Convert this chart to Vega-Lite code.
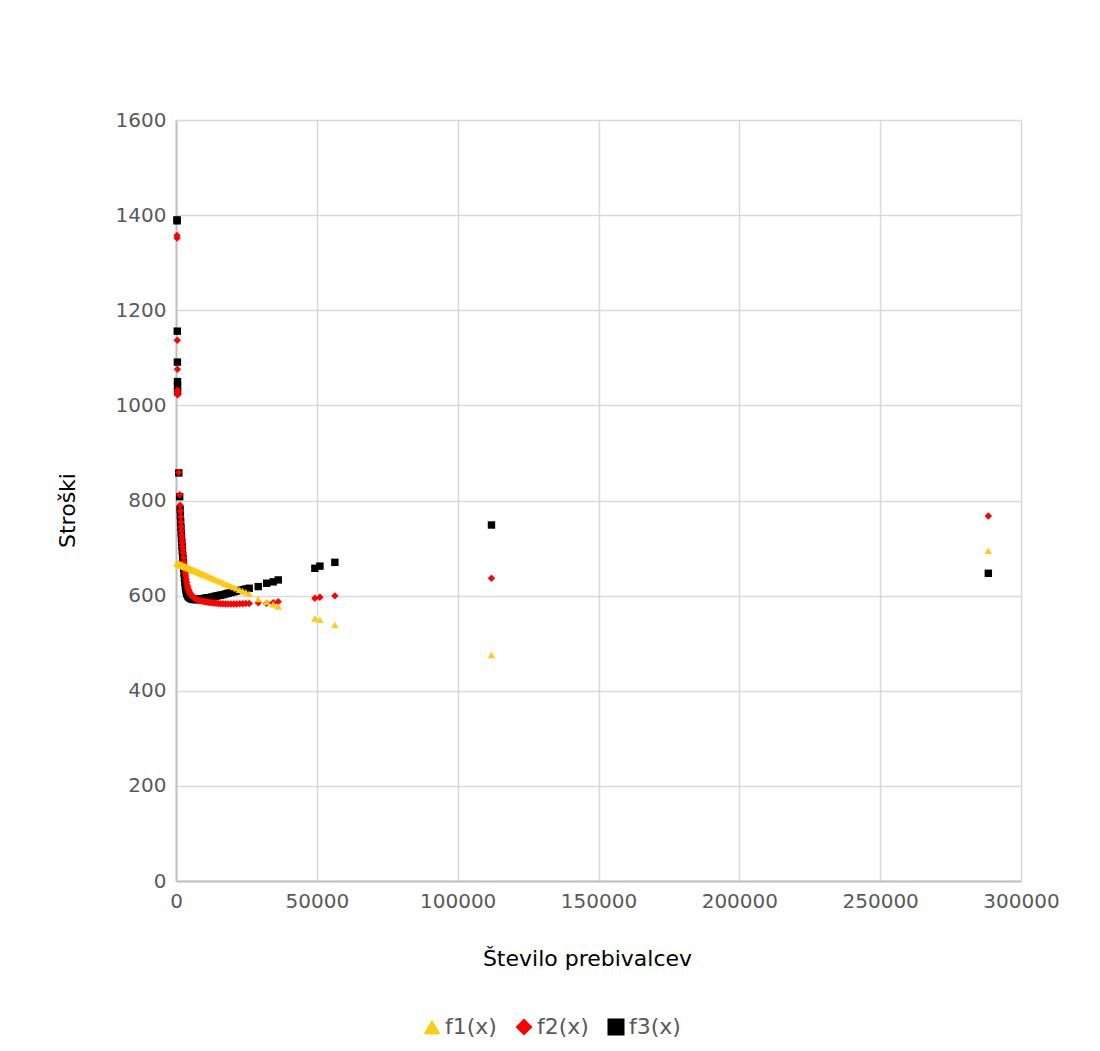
{
 "$schema": "https://vega.github.io/schema/vega-lite/v6.json",
 "width": 845, "height": 761,
 "autosize": {"type": "none"},
 "padding": {"left": 176, "top": 120, "right": 79, "bottom": 170},
 "background": "white",
 "config": {
  "view": {"stroke": null},
  "font": "DejaVu Sans",
  "axis": {"grid": true, "gridColor": "#d9d9d9", "gridWidth": 1.5, "domainColor": "#bfbfbf", "domainWidth": 2, "ticks": false,
   "labelFont": "DejaVu Sans", "labelFontSize": 20, "labelColor": "#595959", "labelPadding": 10,
   "titleFont": "DejaVu Sans", "titleFontSize": 22, "titleFontWeight": "normal", "titleColor": "#000000"}
 },
 "data": {"values": [
  {"x": 360, "f1": 668, "f2": 1357, "f3": 1390},
  {"x": 375, "f1": 668, "f2": 1352, "f3": 1388},
  {"x": 450, "f1": 668, "f2": 1137, "f3": 1156},
  {"x": 500, "f1": 668, "f2": 1076, "f3": 1091},
  {"x": 530, "f1": 668, "f2": 1032, "f3": 1050},
  {"x": 545, "f1": 668, "f2": 1027, "f3": 1040},
  {"x": 560, "f1": 668, "f2": 1022, "f3": 1029},
  {"x": 1000, "f1": 666.5, "f2": 859, "f3": 858},
  {"x": 1300, "f1": 665.8, "f2": 812, "f3": 808},
  {"x": 1450, "f1": 665.4, "f2": 790, "f3": 782},
  {"x": 1550, "f1": 665.1, "f2": 778, "f3": 768},
  {"x": 1650, "f1": 664.9, "f2": 766, "f3": 755},
  {"x": 1750, "f1": 664.6, "f2": 755, "f3": 743},
  {"x": 1850, "f1": 664.4, "f2": 745, "f3": 732},
  {"x": 1950, "f1": 664.1, "f2": 736, "f3": 722},
  {"x": 2050, "f1": 663.9, "f2": 727, "f3": 712},
  {"x": 2150, "f1": 663.6, "f2": 719, "f3": 703},
  {"x": 2250, "f1": 663.4, "f2": 711, "f3": 694},
  {"x": 2350, "f1": 663.1, "f2": 704, "f3": 686},
  {"x": 2450, "f1": 662.9, "f2": 697, "f3": 678},
  {"x": 2550, "f1": 662.6, "f2": 690, "f3": 670},
  {"x": 2700, "f1": 662.3, "f2": 680, "f3": 658},
  {"x": 2850, "f1": 661.9, "f2": 671, "f3": 647},
  {"x": 3000, "f1": 661.5, "f2": 662, "f3": 637},
  {"x": 3150, "f1": 661.1, "f2": 654, "f3": 628},
  {"x": 3300, "f1": 660.8, "f2": 647, "f3": 620},
  {"x": 3450, "f1": 660.4, "f2": 641, "f3": 614},
  {"x": 3600, "f1": 660, "f2": 635, "f3": 609},
  {"x": 3800, "f1": 659.5, "f2": 628, "f3": 605},
  {"x": 4000, "f1": 659, "f2": 622, "f3": 602},
  {"x": 4200, "f1": 658.5, "f2": 617, "f3": 600},
  {"x": 4400, "f1": 658, "f2": 613, "f3": 598},
  {"x": 4600, "f1": 657.5, "f2": 610, "f3": 597},
  {"x": 4800, "f1": 657, "f2": 607, "f3": 596},
  {"x": 5000, "f1": 656.5, "f2": 605, "f3": 595},
  {"x": 5300, "f1": 655.8, "f2": 602, "f3": 594},
  {"x": 5600, "f1": 655, "f2": 600, "f3": 593},
  {"x": 5900, "f1": 654.3, "f2": 598, "f3": 593},
  {"x": 6200, "f1": 653.5, "f2": 596, "f3": 592},
  {"x": 6500, "f1": 652.8, "f2": 595, "f3": 592},
  {"x": 6800, "f1": 652, "f2": 594, "f3": 592},
  {"x": 7100, "f1": 651.3, "f2": 593, "f3": 592},
  {"x": 7400, "f1": 650.5, "f2": 592, "f3": 592},
  {"x": 7700, "f1": 649.8, "f2": 591, "f3": 592},
  {"x": 8000, "f1": 649, "f2": 590.5, "f3": 592},
  {"x": 8400, "f1": 648, "f2": 590, "f3": 592.5},
  {"x": 8800, "f1": 647, "f2": 589, "f3": 593},
  {"x": 9200, "f1": 646, "f2": 588.5, "f3": 593},
  {"x": 9600, "f1": 645, "f2": 588, "f3": 593.5},
  {"x": 10000, "f1": 644, "f2": 587.5, "f3": 594},
  {"x": 10500, "f1": 642.8, "f2": 587, "f3": 594.5},
  {"x": 11000, "f1": 641.5, "f2": 586.5, "f3": 595},
  {"x": 11600, "f1": 640, "f2": 586, "f3": 595.5},
  {"x": 12200, "f1": 638.5, "f2": 585.5, "f3": 596},
  {"x": 12800, "f1": 637, "f2": 585, "f3": 597},
  {"x": 13500, "f1": 635.3, "f2": 584.5, "f3": 598},
  {"x": 14200, "f1": 633.5, "f2": 584, "f3": 599},
  {"x": 15000, "f1": 631.5, "f2": 583.5, "f3": 600},
  {"x": 15800, "f1": 629.5, "f2": 583, "f3": 601},
  {"x": 16700, "f1": 627.3, "f2": 583, "f3": 602},
  {"x": 17600, "f1": 625, "f2": 582.5, "f3": 603.5},
  {"x": 18500, "f1": 622.8, "f2": 582.5, "f3": 605},
  {"x": 19500, "f1": 620.3, "f2": 582.5, "f3": 606.5},
  {"x": 20500, "f1": 617.8, "f2": 582.5, "f3": 608},
  {"x": 21500, "f1": 615.3, "f2": 582.5, "f3": 609.5},
  {"x": 22600, "f1": 612.5, "f2": 583, "f3": 611},
  {"x": 23700, "f1": 609.8, "f2": 583, "f3": 612.5},
  {"x": 24800, "f1": 607, "f2": 583.5, "f3": 614},
  {"x": 26000, "f1": 604, "f2": 583.5, "f3": 615.5},
  {"x": 29200, "f1": 593, "f2": 585, "f3": 619},
  {"x": 32200, "f1": 587, "f2": 584, "f3": 626},
  {"x": 34500, "f1": 582, "f2": 585, "f3": 629},
  {"x": 36300, "f1": 577, "f2": 587, "f3": 633},
  {"x": 49300, "f1": 552, "f2": 594.5, "f3": 657.5},
  {"x": 51100, "f1": 549, "f2": 596.5, "f3": 662},
  {"x": 56400, "f1": 538.5, "f2": 599.5, "f3": 670},
  {"x": 112000, "f1": 475, "f2": 636.5, "f3": 748.5},
  {"x": 288400, "f1": 694.5, "f2": 767.5, "f3": 647}
 ]},
 "transform": [{"fold": ["f1", "f2", "f3"], "as": ["series", "cost"]}],
 "mark": {"type": "point", "filled": true, "size": 55, "opacity": 1, "strokeWidth": 0},
 "encoding": {
  "x": {"field": "x", "type": "quantitative",
   "scale": {"domain": [0, 300000], "nice": false},
   "axis": {"title": "Število prebivalcev", "values": [0, 50000, 100000, 150000, 200000, 250000, 300000], "format": "d", "titlePadding": 37, "titleX": 411, "labelFlush": false}},
  "y": {"field": "cost", "type": "quantitative",
   "scale": {"domain": [0, 1600], "nice": false},
   "axis": {"title": "Stroški", "values": [0, 200, 400, 600, 800, 1000, 1200, 1400, 1600], "format": "d", "titlePadding": 36, "titleY": 390}},
  "color": {"field": "series", "type": "nominal",
   "scale": {"domain": ["f1", "f2", "f3"], "range": ["#FFC914", "#FF0000", "#000000"]},
   "legend": {"orient": "none", "legendX": 245, "legendY": 896, "direction": "horizontal", "title": null,
    "labelExpr": "datum.label + '(x)'", "labelFont": "DejaVu Sans", "labelFontSize": 22, "labelColor": "#595959",
    "symbolSize": 290, "symbolStrokeWidth": 0, "columnPadding": 16, "labelOffset": 2}},
  "shape": {"field": "series", "type": "nominal",
   "scale": {"domain": ["f1", "f2", "f3"], "range": ["triangle-up", "diamond", "square"]}},
  "order": {"field": "series", "sort": "descending"}
 }
}
